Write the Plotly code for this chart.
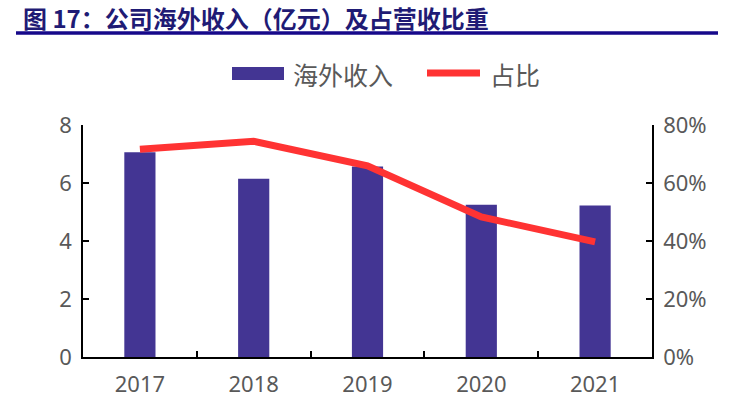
import plotly.graph_objects as go

years = ["2017", "2018", "2019", "2020", "2021"]
overseas_revenue = [7.06, 6.15, 6.57, 5.25, 5.22]
share = [0.716, 0.744, 0.659, 0.483, 0.397]
left_ticks = [0, 2, 4, 6, 8]
right_ticks = [0, 0.2, 0.4, 0.6, 0.8]
legend_names = ["海外收入", "占比"]
title_text = "图 17：公司海外收入（亿元）及占营收比重"

font_cjk = "Noto Sans CJK SC, Noto Sans, sans-serif"
font_num = "Noto Sans, Liberation Sans, sans-serif"
gray = "#595959"
bar_color = "#433593"
line_color = "#ff3333"

W, H = 745, 397
L, R, T, B = 83, 93, 125, 40
plot_w = W - L - R
plot_h = H - T - B


def px_x(px):
    return (px - L) / plot_w


def px_y(py):
    return (H - B - py) / plot_h


fig = go.Figure()
fig.add_trace(go.Bar(x=years, y=overseas_revenue, name=legend_names[0],
                     marker=dict(color=bar_color, line=dict(width=0)),
                     width=0.274, yaxis="y", showlegend=False))
fig.add_trace(go.Scatter(x=years, y=share, name=legend_names[1], mode="lines",
                         line=dict(color=line_color, width=7), yaxis="y2",
                         showlegend=False))

axis_common = dict(showline=True, linecolor="black", linewidth=1.5,
                   ticks="inside", ticklen=6, tickcolor="black", tickwidth=1.5,
                   tickfont=dict(family=font_num, size=22, color=gray),
                   showgrid=False, zeroline=False, automargin=False)

fig.update_layout(
    width=W, height=H,
    margin=dict(l=L, r=R, t=T, b=B, autoexpand=False),
    plot_bgcolor="white", paper_bgcolor="white",
    showlegend=False,
    xaxis=dict(type="category", tickson="boundaries", **axis_common),
    yaxis=dict(range=[0, 8], tickvals=left_ticks, **axis_common),
    yaxis2=dict(range=[0, 0.8], tickvals=right_ticks, tickformat=".0%",
                overlaying="y", side="right", **axis_common),
)
fig.update_xaxes(ticklabelstandoff=7)
fig.update_yaxes(ticklabelstandoff=5)

# title + underline
fig.add_annotation(text="<b>" + title_text + "</b>", x=px_x(21), y=px_y(17),
                   xref="paper", yref="paper", showarrow=False,
                   xanchor="left", yanchor="middle",
                   font=dict(family=font_cjk, size=24, color="#1f1b75"))
fig.add_shape(type="line", xref="paper", yref="paper",
              x0=px_x(16), x1=px_x(718), y0=px_y(33), y1=px_y(33),
              line=dict(color="#16088a", width=3.5))

# custom legend
fig.add_shape(type="rect", xref="paper", yref="paper",
              x0=px_x(232), x1=px_x(284), y0=px_y(80), y1=px_y(67),
              fillcolor=bar_color, line=dict(width=0))
fig.add_annotation(text=legend_names[0], x=px_x(291), y=px_y(74),
                   xref="paper", yref="paper", showarrow=False,
                   xanchor="left", yanchor="middle",
                   font=dict(family=font_cjk, size=25, color=gray))
fig.add_shape(type="line", xref="paper", yref="paper",
              x0=px_x(427), x1=px_x(480), y0=px_y(73), y1=px_y(73),
              line=dict(color=line_color, width=7))
fig.add_annotation(text=legend_names[1], x=px_x(488), y=px_y(74),
                   xref="paper", yref="paper", showarrow=False,
                   xanchor="left", yanchor="middle",
                   font=dict(family=font_cjk, size=25, color=gray))

fig.write_html("out.html", config={"displayModeBar": False},
               post_script="document.body.style.margin='0';document.body.style.padding='0';")
